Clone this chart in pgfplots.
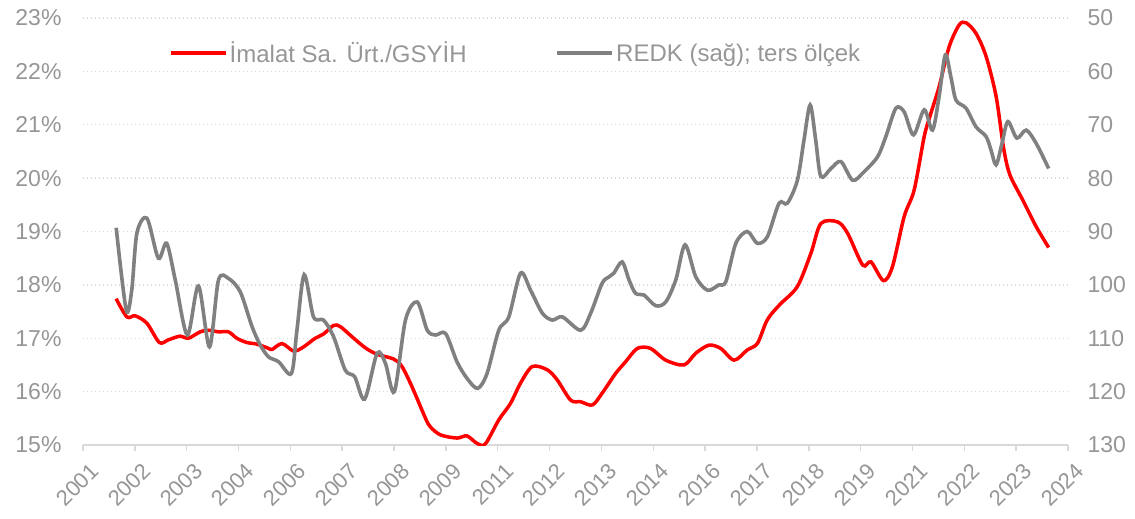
\documentclass[border=0pt]{standalone}
\usepackage{fontspec}
\setmainfont{Liberation Sans}
\usepackage{pgfplots}
\pgfplotsset{compat=1.18}
\definecolor{txtgray}{RGB}{150,150,150}
\definecolor{gridgray}{RGB}{217,217,217}
\definecolor{sergray}{RGB}{128,128,128}

\pgfplotstableread{
m v
9.6 17.74
12.7 17.40
15.1 17.42
18.5 17.28
22.1 16.92
24.7 16.97
28.1 17.04
30.5 17.00
33.9 17.12
36.3 17.15
39.2 17.12
42.1 17.12
44.5 17.00
47.4 16.92
50.3 16.89
53.7 16.81
54.7 16.79
57.6 16.90
60.9 16.76
63.4 16.82
67.2 17.00
69.6 17.08
72.5 17.24
74.4 17.22
77.8 17.03
81.7 16.82
85.1 16.70
89.9 16.61
92.3 16.47
95.2 16.09
99.1 15.50
100.5 15.34
103.4 15.19
108.2 15.13
111.1 15.17
114.0 15.03
116.4 15.02
120.3 15.47
123.7 15.78
126.6 16.16
130.0 16.47
134.3 16.41
137.2 16.22
141.1 15.84
144.0 15.81
147.4 15.75
150.2 15.97
154.1 16.34
157.0 16.56
160.4 16.81
164.2 16.81
168.6 16.59
173.9 16.50
177.3 16.72
181.1 16.87
184.5 16.81
188.4 16.59
192.2 16.78
195.1 16.90
197.5 17.28
199.0 17.44
201.9 17.65
206.7 17.97
210.6 18.59
213.5 19.15
218.3 19.18
221.2 18.97
225.6 18.37
228.0 18.43
231.6 18.08
234.2 18.34
237.6 19.28
240.5 19.78
243.4 20.78
245.3 21.21
247.7 21.71
250.6 22.46
253.5 22.87
255.5 22.91
258.4 22.71
261.3 22.28
264.2 21.53
266.4 20.55
268.2 20.06
271.9 19.59
275.8 19.09
279.4 18.70
}\imalat

\pgfplotstableread{
m v
9.6 89.3
12.5 104.7
14.1 101.0
15.6 90.3
18.5 87.5
21.8 95.0
24.2 92.2
26.7 99.1
30.2 109.4
33.4 100.2
36.6 111.6
39.2 99.1
42.1 98.8
45.5 101.3
48.9 107.8
51.3 111.3
53.7 113.5
56.6 114.4
60.3 116.6
61.9 108.5
64.0 98.1
66.7 106.0
69.6 106.6
72.5 109.7
75.9 116.0
78.6 117.2
81.5 121.4
85.1 112.8
87.5 114.7
90.1 120.0
93.3 106.6
96.7 103.2
99.6 108.5
102.0 109.4
104.9 109.1
108.2 114.4
111.1 117.5
114.2 119.4
116.9 116.6
120.3 108.5
123.2 106.0
126.6 97.8
129.5 101.0
132.9 105.3
135.8 106.6
138.7 106.0
144.0 108.5
146.9 105.3
150.2 99.7
152.2 98.5
153.6 97.8
156.0 95.7
158.0 99.1
159.9 101.6
162.3 101.9
165.7 103.9
168.6 103.2
171.5 99.1
174.2 92.5
177.3 98.5
180.7 101.0
184.0 100.0
186.0 99.4
188.9 92.2
192.2 90.0
195.1 92.2
198.0 91.0
201.4 84.7
203.8 84.7
206.7 80.4
208.6 72.9
210.4 66.3
212.0 72.9
213.5 79.7
216.4 78.2
219.3 76.9
222.7 80.4
226.0 78.8
229.9 76.0
232.3 72.2
235.2 66.9
237.6 67.6
240.3 71.9
243.4 67.2
245.8 71.0
247.7 64.7
249.5 56.9
251.1 61.0
252.6 65.4
255.5 66.9
258.4 70.4
261.3 72.2
262.7 74.7
264.2 77.5
265.9 73.5
267.6 69.4
270.2 72.5
272.9 71.0
275.8 73.5
279.4 78.2
}\redk

\begin{document}
\begin{tikzpicture}
\useasboundingbox (-83bp,-74bp) rectangle (1052bp,445bp);
\begin{axis}[
  at={(0,0)}, anchor=south west,
  scale only axis, width=985bp, height=427bp,
  xmin=0, xmax=285, ymin=15, ymax=23,
  xtick={0,15,...,285},
  xticklabels={2001,2002,2003,2004,2006,2007,2008,2009,2011,2012,2013,2014,2016,2017,2018,2019,2021,2022,2023,2024},
  ytick={15,16,...,23},
  yticklabels={15\%,16\%,17\%,18\%,19\%,20\%,21\%,22\%,23\%},
  axis x line*=bottom, axis y line*=left,
  x axis line style={draw=gridgray, line width=1.5bp, -},
  y axis line style={draw=none},
  ymajorgrids,
  grid style={gridgray, line width=1.3bp, dash pattern=on 1.3bp off 2.7bp},
  tick align=outside, major tick length=6bp,
  xtick style={draw=gridgray, line width=1.5bp},
  ytick style={draw=none},
  tick label style={text=txtgray, font=\fontsize{23bp}{27bp}\selectfont},
  xticklabel style={rotate=45, anchor=east, yshift=-20bp, font=\fontsize{22bp}{26bp}\selectfont},
  yticklabel style={xshift=-12bp},
  legend columns=2,
  legend style={draw=none, fill=none, at={(0.0873,0.918)}, anchor=west,
    inner sep=0pt, text=txtgray, font=\fontsize{24bp}{28bp}\selectfont,
    /tikz/every even column/.append style={column sep=87bp}},
  legend image code/.code={\draw[#1] (0bp,0bp) -- (55bp,0bp);},
]
\addplot[red, line width=3.5bp, smooth, tension=0.5] table[x=m, y=v] {\imalat};
\addlegendentry{İmalat Sa. Ürt./GSYİH}
\addlegendimage{sergray, line width=3.6bp}
\addlegendentry{REDK (sağ); ters ölçek}
\end{axis}
\begin{axis}[
  at={(0,0)}, anchor=south west,
  scale only axis, width=985bp, height=427bp,
  xmin=0, xmax=285, ymin=50, ymax=130, y dir=reverse,
  axis x line=none, axis y line*=right,
  y axis line style={draw=none},
  ytick={50,60,...,130}, ytick style={draw=none},
  tick label style={text=txtgray, font=\fontsize{23bp}{27bp}\selectfont},
  yticklabel style={anchor=west, xshift=16bp},
  /pgf/number format/assume math mode=true,
]
\addplot[sergray, line width=3.6bp, smooth, tension=0.5] table[x=m, y=v] {\redk};
\end{axis}
\end{tikzpicture}
\end{document}
